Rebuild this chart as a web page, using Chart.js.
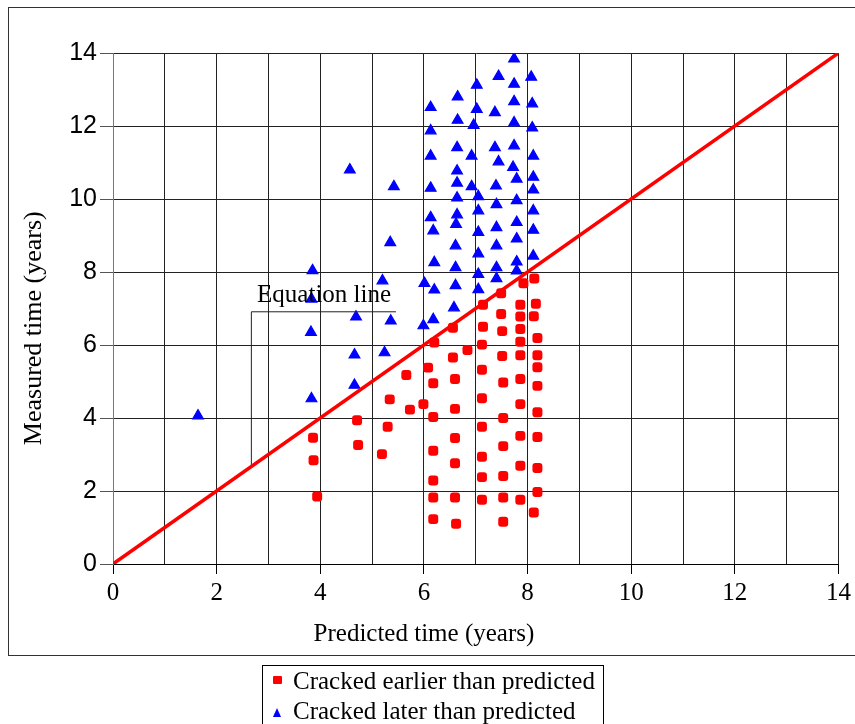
<!DOCTYPE html>
<html>
<head>
<meta charset="utf-8">
<script src="https://cdn.jsdelivr.net/npm/chart.js@4"></script>
<style>
  html, body { margin: 0; padding: 0; background: #fff; overflow: hidden; }
  #wrap { position: relative; width: 855px; height: 724px; }
  #frame { position: absolute; left: 8px; top: 7px; width: 860px; height: 647px; border: 1px solid #333; }
  #chart { position: absolute; left: 0; top: 0; }
  #legend { position: absolute; left: 262px; top: 665px; width: 340px; height: 80px; border: 1px solid #000;
            font: 25px "Liberation Serif", serif; color: #000; }
  .row { position: relative; height: 30px; line-height: 30px; padding-left: 30px; white-space: nowrap; }
  .sq { position: absolute; left: 10px; top: 10px; width: 9px; height: 8px; background: #f00; border-radius: 1px; }
  .tri { position: absolute; left: 10px; top: 12px; width: 0; height: 0; border-left: 4.5px solid transparent;
         border-right: 4.5px solid transparent; border-bottom: 9px solid #00f; }
</style>
</head>
<body>
<div id="wrap">
  <div id="frame"></div>
  <canvas id="chart" width="855" height="724"></canvas>
  <div id="legend">
    <div class="row"><span class="sq"></span>Cracked earlier than predicted</div>
    <div class="row"><span class="tri"></span>Cracked later than predicted</div>
  </div>
</div>
<script>
// cracked earlier than predicted (red squares)
const earlierX = [3.86, 3.87, 3.94, 4.71, 4.73, 5.19, 5.30, 5.34, 5.66, 5.73, 5.99, 6.08,
  6.20, 6.18, 6.18, 6.18, 6.18, 6.18, 6.18,
  6.56, 6.56, 6.60, 6.60, 6.60, 6.60, 6.60, 6.62, 6.84,
  7.14, 7.14, 7.12, 7.12, 7.12, 7.12, 7.12, 7.12, 7.12,
  7.49, 7.49, 7.51, 7.51, 7.53, 7.53, 7.53, 7.53, 7.53, 7.53,
  7.92, 7.86, 7.86, 7.86, 7.86, 7.86, 7.86, 7.86, 7.86, 7.86, 7.86,
  8.13, 8.16, 8.12, 8.19, 8.19, 8.19, 8.19, 8.19, 8.19, 8.19, 8.19, 8.12];
const earlierY = [3.46, 2.84, 1.85, 3.94, 3.26, 3.01, 3.76, 4.51, 5.18, 4.23, 4.38, 5.38,
  6.07, 4.95, 4.03, 3.10, 2.29, 1.82, 1.23,
  6.47, 5.66, 5.07, 4.25, 3.45, 2.76, 1.82, 1.10, 5.86,
  7.10, 6.50, 6.01, 5.32, 4.54, 3.76, 2.94, 2.38, 1.76,
  7.42, 6.85, 6.38, 5.70, 4.97, 4.00, 3.23, 2.41, 1.82, 1.16,
  7.69, 7.10, 6.78, 6.44, 6.09, 5.72, 5.07, 4.38, 3.51, 2.69, 1.76,
  7.82, 7.13, 6.79, 6.19, 5.72, 5.39, 4.88, 4.16, 3.48, 2.63, 1.97, 1.41];

// cracked later than predicted (blue triangles)
const laterX = [1.64, 3.85, 3.83, 3.82, 3.83, 4.57, 4.69, 4.66, 4.66,
  5.42, 5.35, 5.20, 5.36, 5.24, 6.01, 5.99,
  6.13, 6.13, 6.13, 6.13, 6.13, 6.18, 6.20, 6.20, 6.18,
  6.65, 6.65, 6.64, 6.64, 6.64, 6.64, 6.64, 6.62, 6.61, 6.61, 6.61, 6.58,
  6.96, 6.92, 6.92,
  7.02, 7.02, 7.05, 7.05, 7.05, 7.05, 7.05, 7.05,
  7.44, 7.37, 7.37, 7.44, 7.39, 7.40, 7.40, 7.40, 7.40, 7.40,
  7.74, 7.74, 7.74, 7.74, 7.74, 7.72, 7.79, 7.79, 7.79, 7.79, 7.79, 7.79,
  8.07, 8.09, 8.09, 8.11, 8.11, 8.11, 8.11, 8.11, 8.11];
const laterY = [4.06, 8.04, 7.26, 6.35, 4.53, 10.80, 6.77, 5.73, 4.90,
  10.34, 8.81, 7.76, 6.66, 5.79, 7.69, 6.53,
  12.51, 11.87, 11.18, 10.30, 9.49, 9.13, 8.26, 7.51, 6.70,
  12.80, 12.16, 11.41, 10.77, 10.44, 10.03, 9.57, 9.31, 8.72, 8.12, 7.63, 7.02,
  12.02, 11.18, 10.34,
  13.12, 12.46, 10.07, 9.68, 9.09, 8.50, 7.94, 7.52,
  13.36, 12.37, 11.41, 11.02, 10.36, 9.85, 9.22, 8.72, 8.12, 7.82,
  13.84, 13.15, 12.67, 12.09, 11.46, 10.87, 10.55, 9.96, 9.36, 8.91, 8.28, 8.03,
  13.34, 12.61, 11.95, 11.18, 10.60, 10.25, 9.68, 9.15, 8.44];

// equation line y = x and its label leader
const equationX = [0, 14];
const equationY = [0, 14];
const leaderX = [2.67, 2.67, 5.46];
const leaderY = [2.67, 6.91, 6.91];
const leaderLabel = "Equation line";
const labelAt = [2.78, 7.18];

// axis titles (not centred on the axes in the original)
const xTitle = "Predicted time (years)";
const yTitle = "Measured time (years)";
const xTitleAt = 6.0;
const yTitleAt = 6.46;

const serif = '"Liberation Serif", "Times New Roman", serif';
const sans = '"Liberation Sans", Arial, sans-serif';

function zip(xs, ys) {
  return xs.map((x, i) => ({ x: x, y: ys[i] }));
}

const textPlugin = {
  id: "extraText",
  afterDatasetsDraw(chart) {
    const ctx = chart.ctx;
    const sx = chart.scales.x, sy = chart.scales.y;
    const area = chart.chartArea;
    ctx.save();
    ctx.fillStyle = "#000";

    ctx.font = "25px " + serif;
    ctx.textAlign = "left";
    ctx.textBaseline = "alphabetic";
    ctx.fillText(leaderLabel, sx.getPixelForValue(labelAt[0]), sy.getPixelForValue(labelAt[1]));

    ctx.textAlign = "center";
    ctx.textBaseline = "middle";
    ctx.fillText(xTitle, sx.getPixelForValue(xTitleAt), area.bottom + 70);

    ctx.font = "26px " + serif;
    ctx.translate(area.left - 79, sy.getPixelForValue(yTitleAt));
    ctx.rotate(-Math.PI / 2);
    ctx.fillText(yTitle, 0, 0);
    ctx.restore();
  }
};

Chart.defaults.color = "#000";

new Chart(document.getElementById("chart"), {
  type: "scatter",
  data: {
    datasets: [
      {
        type: "line",
        label: "Equation",
        data: zip(equationX, equationY),
        borderColor: "#ff0000",
        borderWidth: 3.5,
        pointRadius: 0,
        order: 0
      },
      {
        type: "line",
        label: "Leader",
        data: zip(leaderX, leaderY),
        borderColor: "#222",
        borderWidth: 1,
        pointRadius: 0,
        order: 1
      },
      {
        label: "Cracked earlier than predicted",
        data: zip(earlierX, earlierY),
        pointStyle: "rectRounded",
        pointRadius: 5.8,
        backgroundColor: "#ff0000",
        borderColor: "#ff0000",
        borderWidth: 0,
        order: 2
      },
      {
        label: "Cracked later than predicted",
        data: zip(laterX, laterY),
        pointStyle: "triangle",
        pointRadius: 6.2,
        backgroundColor: "#0000ff",
        borderColor: "#0000ff",
        borderWidth: 1.2,
        order: 3
      }
    ]
  },
  options: {
    responsive: false,
    animation: false,
    events: [],
    layout: { padding: { left: 0, top: 53, right: 13, bottom: 60 } },
    plugins: { legend: { display: false }, tooltip: { enabled: false } },
    scales: {
      x: {
        type: "linear",
        min: 0,
        max: 14,
        afterFit: s => { s.height = 100; },
        border: { color: "#000", width: 1 },
        grid: {
          color: "#222",
          lineWidth: 1,
          tickLength: 10,
          tickColor: c => (c.tick && c.tick.value % 2 === 0 ? "#000" : "rgba(0,0,0,0)")
        },
        ticks: {
          stepSize: 1,
          padding: 4,
          maxRotation: 0,
          autoSkip: false,
          font: { family: serif, size: 25 },
          callback: v => (v % 2 === 0 ? v : "")
        }
      },
      y: {
        type: "linear",
        min: 0,
        max: 14,
        afterFit: s => { s.width = 113; },
        border: { color: "#777", width: 1 },
        grid: { color: "#222", lineWidth: 1, tickLength: 13, tickColor: "#555" },
        ticks: {
          stepSize: 2,
          padding: 3,
          font: { family: sans, size: 25 }
        }
      }
    }
  },
  plugins: [textPlugin]
});
</script>
</body>
</html>
